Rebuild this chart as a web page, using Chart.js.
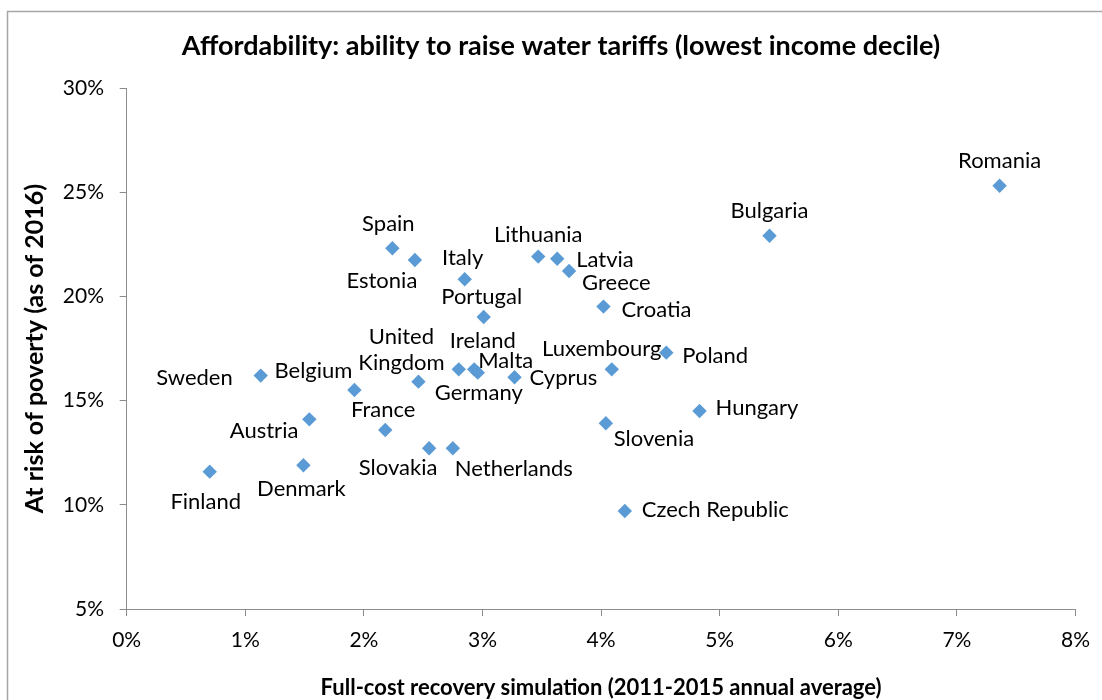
<!DOCTYPE html>
<html><head><meta charset="utf-8">
<script src="https://cdn.jsdelivr.net/npm/chart.js@4/dist/chart.umd.min.js"></script>
<style>html,body{margin:0;padding:0;background:#fff;overflow:hidden}
canvas{display:block}</style></head>
<body><canvas id="c" width="1102" height="700"></canvas>
<script>
// ---- data ----
const countries = ["Romania","Bulgaria","Spain","Estonia","Italy","Lithuania","Latvia","Greece","Croatia","Portugal","Poland","Luxembourg","Ireland","Malta","Germany","United Kingdom","Cyprus","Sweden","Belgium","France","Austria","Slovakia","Netherlands","Slovenia","Hungary","Finland","Denmark","Czech Republic"];
const costRecovery = [7.36,5.42,2.24,2.43,2.85,3.47,3.63,3.73,4.02,3.01,4.55,4.09,2.80,2.93,2.96,2.46,3.27,1.13,1.92,2.18,1.54,2.55,2.75,4.04,4.83,0.70,1.49,4.20];
const povertyRisk  = [25.31,22.91,22.31,21.75,20.82,21.91,21.81,21.22,19.51,19.01,17.30,16.50,16.50,16.50,16.34,15.91,16.12,16.20,15.51,13.59,14.10,12.71,12.71,13.91,14.50,11.59,11.90,9.70];
const xTickValues = [0,1,2,3,4,5,6,7,8];
const yTickValues = [5,10,15,20,25,30];
const chartTitle = "Affordability: ability to raise water tariffs (lowest income decile)";
const xTitle = "Full-cost recovery simulation (2011-2015 annual average)";
const yTitle = "At risk of poverty (as of 2016)";

// ---- label placement (style) : [textAlign, dx, baseline dy, wrapWords] ----
const labelLayout = {
  "Romania":["center",0,-18],"Bulgaria":["center",0,-18],"Spain":["center",-4,-17],
  "Estonia":["center",-33,28],"Italy":["center",-2,-14],"Lithuania":["center",0,-15],
  "Latvia":["left",19,8],"Greece":["left",13,19],"Croatia":["left",18,10],
  "Portugal":["center",-2,-13],"Poland":["left",16,10.5],"Luxembourg":["center",-10,-13],
  "Ireland":["center",24,-21],"Malta":["left",4,-1],"Germany":["center",1,27],
  "United Kingdom":["center",-17,-12,true],"Cyprus":["left",15,8],"Sweden":["right",-28,9],
  "Belgium":["right",-2,-12],"France":["center",-2,-13],"Austria":["right",-11,19],
  "Slovakia":["center",-31,27],"Netherlands":["left",2,28],"Slovenia":["left",8,23],
  "Hungary":["left",16,4],"Finland":["center",-4,37],"Denmark":["center",-2,31],
  "Czech Republic":["left",17,6]
};

const points = costRecovery.map((x,i)=>({x:x, y:povertyRisk[i]}));
const AXIS = '#8c8c8c';
const PAD_LEFT = 45;

const frame = {
  id:'frame',
  beforeDraw(chart){
    const c = chart.ctx;
    c.save();
    c.fillStyle='#fff'; c.fillRect(0,0,chart.width,chart.height);
    c.strokeStyle='#a6a6a6'; c.lineWidth=1.5;
    c.beginPath();
    c.moveTo(7.5, chart.height); c.lineTo(7.5, 11.5); c.lineTo(chart.width, 11.5);
    c.stroke();
    c.restore();
  }
};

const pointLabels = {
  id:'pointLabels',
  afterDatasetsDraw(chart){
    const c = chart.ctx;
    const meta = chart.getDatasetMeta(0);
    c.save();
    c.font = '22px Lato';
    c.fillStyle = '#000';
    c.textBaseline = 'alphabetic';
    meta.data.forEach((el,i)=>{
      const name = countries[i];
      const [align,dx,dy,wrap] = labelLayout[name];
      const lines = wrap ? name.split(' ') : [name];
      c.textAlign = align;
      lines.forEach((ln,k)=>{
        c.fillText(ln, el.x+dx, el.y+dy-26*(lines.length-1-k));
      });
    });
    c.restore();
  }
};

new Chart(document.getElementById('c'), {
  type:'scatter',
  data:{ datasets:[{
    label:'Countries',
    data:points,
    pointStyle:'rectRot',
    pointRadius:7.2,
    pointHoverRadius:7.2,
    backgroundColor:'#5B9BD5',
    borderColor:'#5B9BD5',
    borderWidth:0
  }]},
  options:{
    responsive:false,
    animation:false,
    devicePixelRatio:1,
    layout:{padding:{left:PAD_LEFT,right:25,top:0,bottom:0}},
    plugins:{
      legend:{display:false},
      tooltip:{enabled:false},
      title:{display:true,text:chartTitle,color:'#000',
        font:{family:'Lato',size:27,weight:'bold',lineHeight:1.2},
        padding:{top:30,bottom:25.6}}
    },
    scales:{
      x:{type:'linear',min:0,max:8,
        afterBuildTicks(s){ s.ticks = xTickValues.map(v=>({value:v})); },
        afterFit(s){ s.height = 91; },
        ticks:{callback:v=>v+'%',color:'#000',font:{family:'Lato',size:21},padding:12,maxRotation:0},
        grid:{display:true,drawOnChartArea:false,drawTicks:true,tickLength:7,color:AXIS},
        border:{display:true,color:AXIS,width:1},
        title:{display:true,text:xTitle,color:'#000',font:{family:'Lato',size:22,weight:'bold',lineHeight:1.1},padding:{top:0,bottom:0}}
      },
      y:{type:'linear',min:5,max:30,
        afterBuildTicks(s){ s.ticks = yTickValues.map(v=>({value:v})); },
        afterFit(s){ s.width = 126.7 - PAD_LEFT; },
        ticks:{callback:v=>v+'%',color:'#000',font:{family:'Lato',size:21},padding:15.7},
        grid:{display:true,drawOnChartArea:false,drawTicks:true,tickLength:7,color:AXIS},
        border:{display:true,color:AXIS,width:1},
        title:{display:true,text:yTitle,color:'#000',font:{family:'Lato',size:25,weight:'bold',lineHeight:1.2},padding:{top:20 - PAD_LEFT,bottom:0}}
      }
    }
  },
  plugins:[frame,pointLabels]
});
</script>
</body></html>
